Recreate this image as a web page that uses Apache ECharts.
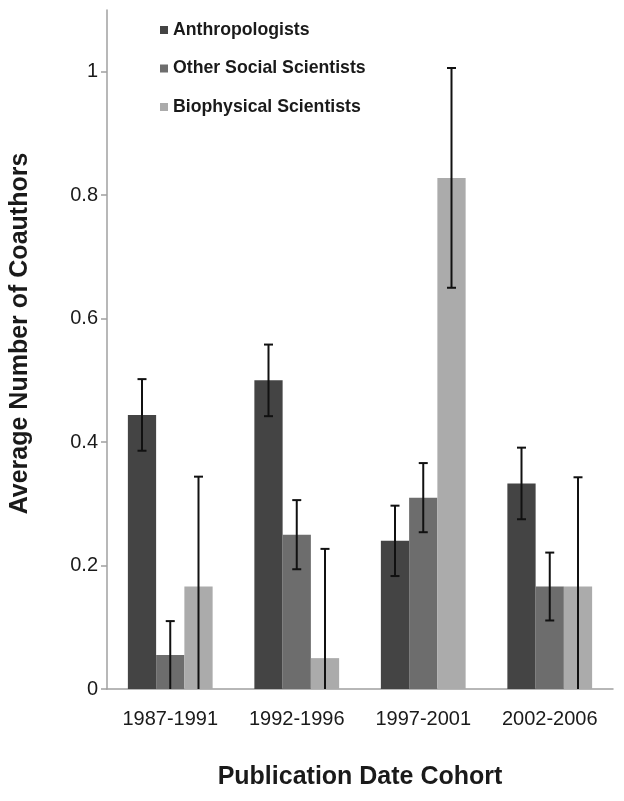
<!DOCTYPE html>
<html>
<head>
<meta charset="utf-8">
<script src="https://cdn.jsdelivr.net/npm/echarts@6/dist/echarts.min.js"></script>
<style>
  html, body { margin: 0; padding: 0; background: #fff; }
  #chart { width: 624px; height: 801px; }
</style>
</head>
<body>
<div id="chart"></div>
<script>
// values
const cohorts = ['1987-1991', '1992-1996', '1997-2001', '2002-2006'];
const seriesNames = ['Anthropologists', 'Other Social Scientists', 'Biophysical Scientists'];
const anthroMean = [0.444, 0.5, 0.24, 0.333];
const anthroErr = [0.058, 0.058, 0.057, 0.058];
const otherMean = [0.055, 0.25, 0.31, 0.166];
const otherErr = [0.055, 0.056, 0.056, 0.055];
const bioMean = [0.166, 0.05, 0.828, 0.166];
const bioErr = [0.178, 0.177, 0.178, 0.177];
const yTicks = [0, 0.2, 0.4, 0.6, 0.8, 1];

const colors = ['#444444', '#6d6d6d', '#ababab'];
const means = [anthroMean, otherMean, bioMean];
const errs = [anthroErr, otherErr, bioErr];
const GAP = 0.33;

var myChart = echarts.init(document.getElementById('chart'));

function errorBars(idx) {
  return {
    type: 'custom',
    name: seriesNames[idx] + ' error',
    z: 10,
    silent: true,
    encode: { x: 0, y: 1 },
    data: means[idx].map((v, i) => [i, v, errs[idx][i]]),
    renderItem: function (params, api) {
      const cat = api.value(0), v = api.value(1), e = api.value(2);
      const bw = api.size([1, 0])[0] * (1 - GAP) / 3;
      const x = api.coord([cat, v])[0] + (idx - 1) * bw;
      const lowVal = Math.max(0, v - e);
      const yTop = api.coord([cat, v + e])[1];
      const yLow = api.coord([cat, lowVal])[1];
      const style = { stroke: '#111', lineWidth: 2 };
      const kids = [
        { type: 'line', shape: { x1: x, y1: yTop, x2: x, y2: yLow }, style: style },
        { type: 'line', shape: { x1: x - 4.5, y1: yTop, x2: x + 4.5, y2: yTop }, style: style }
      ];
      // no lower cap when the bar is clipped at zero
      if (v - e > 0.001) {
        kids.push({ type: 'line', shape: { x1: x - 4.5, y1: yLow, x2: x + 4.5, y2: yLow }, style: style });
      }
      return { type: 'group', children: kids };
    }
  };
}

const series = [];
seriesNames.forEach((name, i) => {
  series.push({
    name: name,
    type: 'bar',
    data: means[i],
    itemStyle: { color: colors[i] },
    barGap: '0%',
    barCategoryGap: (GAP * 100) + '%'
  });
});
seriesNames.forEach((name, i) => series.push(errorBars(i)));

var option = {
  animation: false,
  textStyle: { fontFamily: 'Liberation Sans, Arial, sans-serif' },
  grid: { left: 105, right: 11, top: 10, bottom: 112 },
  legend: {
    data: seriesNames,
    orient: 'vertical',
    left: 155,
    top: 15,
    icon: 'rect',
    itemWidth: 8,
    itemHeight: 8,
    itemGap: 18.5,
    textStyle: { fontSize: 17.7, fontWeight: 'bold', color: '#1a1a1a', lineHeight: 20 }
  },
  xAxis: {
    type: 'category',
    data: cohorts,
    name: 'Publication Date Cohort',
    nameLocation: 'middle',
    nameGap: 76,
    nameTextStyle: { fontSize: 25, fontWeight: 'bold', color: '#1a1a1a' },
    axisLine: { lineStyle: { color: '#a0a0a0', width: 1.5 } },
    axisTick: { show: false },
    axisLabel: { fontSize: 20, color: '#1a1a1a', margin: 20 }
  },
  yAxis: {
    type: 'value',
    min: 0,
    max: 1.1,
    interval: 0.2,
    name: 'Average Number of Coauthors',
    nameLocation: 'middle',
    nameRotate: 90,
    nameGap: 74,
    nameTextStyle: { fontSize: 25, fontWeight: 'bold', color: '#1a1a1a', padding: [0, 0, 0, 32] },
    splitLine: { show: false },
    axisLine: { show: true, lineStyle: { color: '#a0a0a0', width: 1.5 } },
    axisTick: { show: true, length: 6, customValues: yTicks, lineStyle: { color: '#a0a0a0', width: 1.5 } },
    axisLabel: { fontSize: 20, color: '#1a1a1a', margin: 9, customValues: yTicks }
  },
  series: series
};

myChart.setOption(option);
</script>
</body>
</html>
